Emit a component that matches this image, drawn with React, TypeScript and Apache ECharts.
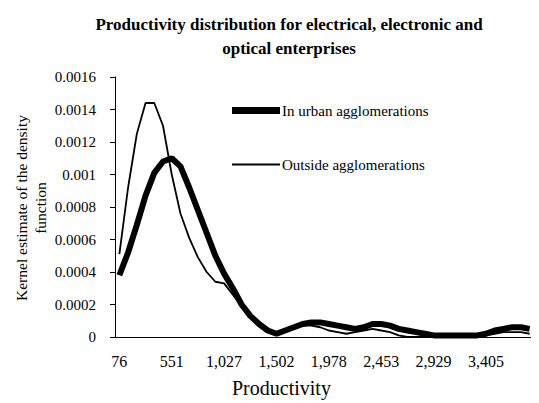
import React, { useEffect, useRef } from "react";
import * as echarts from "echarts";

const categories = [
  "76", "155", "235", "314", "393", "472", "551", "631", "710", "789", "868", "948",
  "1,027", "1,106", "1,186", "1,265", "1,344", "1,423", "1,502", "1,582", "1,661", "1,740", "1,819", "1,899",
  "1,978", "2,057", "2,137", "2,216", "2,295", "2,374", "2,453", "2,533", "2,612", "2,691", "2,771", "2,850",
  "2,929", "3,008", "3,088", "3,167", "3,246", "3,325", "3,405", "3,484", "3,563", "3,642", "3,722", "3,801",
];

const urban = [
  0.00038, 0.00052, 0.00069, 0.00087, 0.00101, 0.00108, 0.0011, 0.00105, 0.00092, 0.00078, 0.00064, 0.0005,
  0.00039, 0.0003, 0.0002, 0.00013, 0.00008, 0.00004, 0.00002, 0.00004, 0.00006, 0.00008, 0.00009, 0.00009,
  0.00008, 0.00007, 0.00006, 0.00005, 0.00006, 0.00008, 0.00008, 0.00007, 0.00005, 0.00004, 0.00003, 0.00002,
  0.00001, 0.00001, 0.00001, 0.00001, 0.00001, 0.00001, 0.00002, 0.00004, 0.00005, 0.00006, 0.00006, 0.00005,
];

const outside = [
  0.00051, 0.00092, 0.00125, 0.00144, 0.00144, 0.0013, 0.001, 0.00076, 0.00061, 0.00049, 0.0004, 0.00034,
  0.00033, 0.00026, 0.00019, 0.00012, 0.00008, 0.00004, 0.00003, 0.00004, 0.00006, 0.00007, 0.00007, 0.00006,
  0.00004, 0.00003, 0.00002, 0.00003, 0.00004, 0.00005, 0.00004, 0.00003, 0.00001, 0, 0, 0,
  0, 0, 0, 0, 0, 0, 0.00001, 0.00002, 0.00003, 0.00003, 0.00003, 0.00002,
];

const seriesNames = ["In urban agglomerations", "Outside agglomerations"];
const titleText = "Productivity distribution for electrical, electronic and\noptical enterprises";
const xTitle = "Productivity";
const yTitle = "Kernel estimate of the density\nfunction";

const FONT = "Liberation Serif";

export default function App() {
  const ref = useRef<HTMLDivElement>(null);
  useEffect(() => {
    if (!ref.current) return;
    const chart = echarts.init(ref.current, null, { renderer: "svg" });
    const legendText = { fontFamily: FONT, fontSize: 15, color: "#000", padding: [0, 0, 0, -3] };
    chart.setOption({
      animation: false,
      backgroundColor: "#fff",
      textStyle: { fontFamily: FONT, color: "#000" },
      title: {
        text: titleText,
        left: 284,
        top: 7,
        textAlign: "center",
        textStyle: { fontFamily: FONT, fontSize: 17, fontWeight: "bold", color: "#000", lineHeight: 24 },
      },
      grid: { left: 115, right: 5, top: 77, bottom: 66, containLabel: false },
      legend: [
        {
          left: 227,
          top: 98,
          itemWidth: 48,
          itemHeight: 7,
          icon: "rect",
          textStyle: legendText,
          data: [seriesNames[0]],
        },
        {
          left: 227,
          top: 152,
          itemWidth: 48,
          itemHeight: 2,
          icon: "rect",
          textStyle: legendText,
          data: [seriesNames[1]],
        },
      ],
      xAxis: {
        type: "category",
        data: categories,
        boundaryGap: true,
        axisLine: { lineStyle: { color: "#000", width: 1 } },
        axisTick: { interval: 0, length: 5, lineStyle: { color: "#000" } },
        axisLabel: { interval: 5, fontFamily: FONT, fontSize: 16, color: "#000", margin: 16 },
        splitLine: { show: false },
      },
      yAxis: {
        type: "value",
        min: 0,
        max: 0.0016,
        interval: 0.0002,
        axisLine: { show: true, lineStyle: { color: "#000", width: 1 } },
        axisTick: { show: true, length: 5, lineStyle: { color: "#000" } },
        axisLabel: {
          fontFamily: FONT,
          fontSize: 15,
          color: "#000",
          margin: 19,
          formatter: (v: number) => String(+v.toFixed(4)),
        },
        splitLine: { show: false },
      },
      graphic: [
        {
          type: "text",
          left: 232,
          top: 378,
          style: { text: xTitle, fontFamily: FONT, fontSize: 20, fill: "#000" },
        },
        {
          type: "text",
          x: 31,
          y: 208,
          rotation: Math.PI / 2,
          style: {
            text: yTitle,
            fontFamily: FONT,
            fontSize: 15.5,
            fill: "#000",
            align: "center",
            verticalAlign: "middle",
            lineHeight: 19,
          },
        },
      ],
      series: [
        {
          name: seriesNames[0],
          type: "line",
          data: urban,
          symbol: "none",
          smooth: false,
          lineStyle: { color: "#000", width: 6 },
          itemStyle: { color: "#000" },
        },
        {
          name: seriesNames[1],
          type: "line",
          data: outside,
          symbol: "none",
          smooth: false,
          lineStyle: { color: "#000", width: 1.8 },
          itemStyle: { color: "#000" },
        },
      ],
    });
    return () => chart.dispose();
  }, []);
  return <div ref={ref} style={{ width: 539, height: 403, marginLeft: -8, marginTop: -8 }} />;
}
